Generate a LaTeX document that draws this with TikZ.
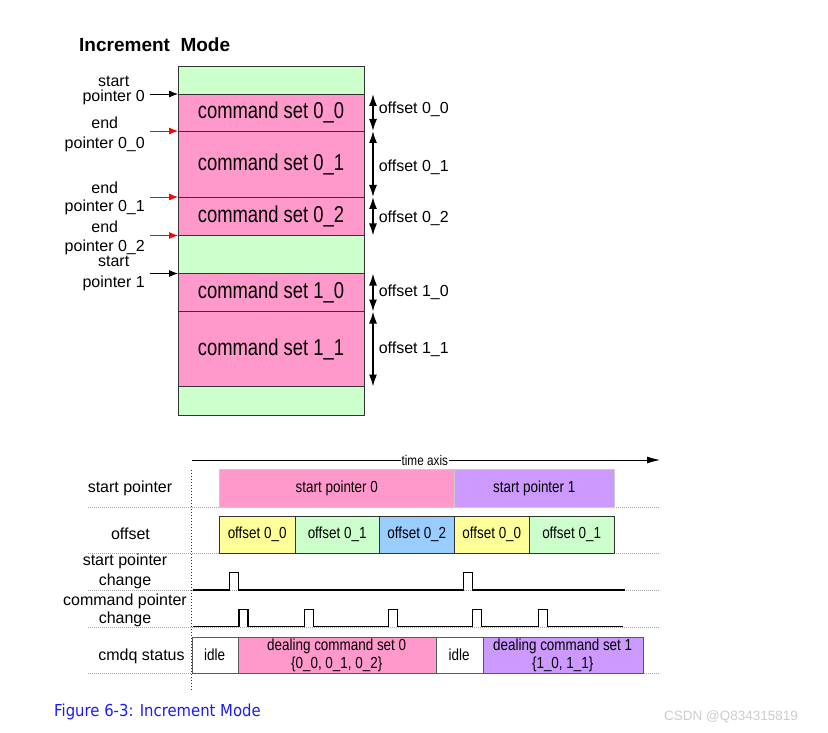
\documentclass[tikz,border=0pt]{standalone}
\usepackage{fontspec}
\setmainfont{Liberation Sans}
\newfontfamily\narrowfont[FakeStretch=0.84]{Liberation Sans}
\newfontfamily\widefont[FakeStretch=0.8]{Liberation Sans}
\newfontfamily\capfont[FakeStretch=0.9]{DejaVu Sans}
\usetikzlibrary{arrows.meta}
\definecolor{cmdpink}{HTML}{FF99CC}
\definecolor{freegreen}{HTML}{CCFFCC}
\definecolor{setpurple}{HTML}{CC99FF}
\definecolor{offyellow}{HTML}{FFFF99}
\definecolor{offblue}{HTML}{99CCFF}
\definecolor{capblue}{HTML}{1A1AFF}
\tikzset{
  memrow/.style={draw=black!80, line width=0.8pt, minimum width=186pt, inner sep=0pt, outer sep=0pt,
    anchor=north west, font=\widefont\fontsize{23}{25}\selectfont},
  ptrlbl/.style={align=center, anchor=east, inner sep=0pt, font=\fontsize{16}{18}\selectfont},
  ptrarr/.style={-{Latex[length=9pt,width=7pt]}, line width=0.8pt},
  offarr/.style={{Latex[length=12pt,width=8pt]}-{Latex[length=12pt,width=8pt]}, line width=1.6pt},
  offlbl/.style={anchor=west, xshift=5pt, inner sep=0pt, font=\fontsize{16}{18}\selectfont},
  rowlbl/.style={align=center, inner sep=0pt, font=\fontsize{16}{18}\selectfont},
  tbox/.style={anchor=north west, inner sep=0pt, outer sep=0pt, align=center,
    font=\narrowfont\fontsize{16}{19}\selectfont},
  sep/.style={gray!70, dash pattern=on 1pt off 1pt},
  wave/.style={line width=1.5pt, line join=miter}
}
\begin{document}
\begin{tikzpicture}[x=1pt,y=-1pt]
  \useasboundingbox (0,0) rectangle (828,733);
  \node[anchor=west, inner sep=0pt, font=\bfseries\fontsize{19}{22}\selectfont] (title) at (79,45) {Increment\ \ Mode};
  % memory layout
  \node[memrow, fill=freegreen, minimum height=28pt] (g0) at (178,66) {};
  \node[memrow, fill=cmdpink, minimum height=37pt] (c00) at (178,94) {command set 0\_0};
  \node[memrow, fill=cmdpink, minimum height=66pt] (c01) at (178,131) {command set 0\_1};
  \node[memrow, fill=cmdpink, minimum height=38.5pt] (c02) at (178,197) {command set 0\_2};
  \node[memrow, fill=freegreen, minimum height=38pt] (g1) at (178,235.5) {};
  \node[memrow, fill=cmdpink, minimum height=38pt] (c10) at (178,273.5) {command set 1\_0};
  \node[memrow, fill=cmdpink, minimum height=75pt] (c11) at (178,311.5) {command set 1\_1};
  \node[memrow, fill=freegreen, minimum height=28.5pt] (g2) at (178,386.5) {};
  \node[ptrlbl] (sp0) at (145,90.5) {start\\[-3pt]pointer 0};
  \node[ptrlbl] (ep00) at (145,134) {end\\[2pt]pointer 0\_0};
  \node[ptrlbl] (ep01) at (145,198) {end\\[0pt]pointer 0\_1};
  \node[ptrlbl] (ep02) at (145,237.5) {end\\[1pt]pointer 0\_2};
  \node[ptrlbl] (sp1) at (145,273.5) {start\\[3pt]pointer 1};
  \draw[ptrarr] (sp0.east |- c00.north west) ++(5,0) -- (c00.north west);
  \draw[ptrarr, red] (ep00.east |- c01.north west) ++(5,0) -- (c01.north west);
  \draw[ptrarr, red] (ep01.east |- c02.north west) ++(5,0) -- (c02.north west);
  \draw[ptrarr, red] (ep02.east |- g1.north west) ++(5,0) -- (g1.north west);
  \draw[ptrarr] (sp1.east |- c10.north west) ++(5,0) -- (c10.north west);
  \draw[offarr] ([xshift=9pt]c00.north east) -- ([xshift=9pt]c00.south east) node[offlbl, midway, yshift=3pt] {offset 0\_0};
  \draw[offarr] ([xshift=9pt]c01.north east) -- ([xshift=9pt]c01.south east) node[offlbl, midway, yshift=-3pt] {offset 0\_1};
  \draw[offarr] ([xshift=9pt]c02.north east) -- ([xshift=9pt]c02.south east) node[offlbl, midway, yshift=-2pt] {offset 0\_2};
  \draw[offarr] ([xshift=9pt]c10.north east) -- ([xshift=9pt]c10.south east) node[offlbl, midway] {offset 1\_0};
  \draw[offarr] ([xshift=9pt]c11.north east) -- ([xshift=9pt]c11.south east) node[offlbl, midway] {offset 1\_1};
  % timing
  \coordinate (t0) at (191.5,460);
  \coordinate (t1) at (660,460);
  \draw[-{Latex[length=13pt,width=7pt]}, line width=0.8pt] (t0) -- (t1)
    node[pos=0.498, fill=white, inner sep=1pt, font=\narrowfont\fontsize{14}{16}\selectfont] (axis) {time axis};
  \draw[black!80, dash pattern=on 1pt off 2pt] (191.5,470) -- (191.5,690);
  \foreach \y in {506.7,552.7,590,626.7,673.3}
    \draw[sep] (88,\y) -- (660,\y);
  \node[rowlbl] (rsp) at (130,488) {start pointer};
  \node[rowlbl] (roff) at (130.5,534) {offset};
  \node[rowlbl] (rspc) at (125,571.5) {start pointer\\[2pt]change};
  \node[rowlbl] (rcpc) at (125,610) {command pointer\\[0pt]change};
  \node[rowlbl] (rst) at (141.5,656.7) {cmdq status};
  \node[tbox, fill=cmdpink, draw=gray!40, minimum width=235pt, minimum height=37.4pt] (spa) at (219.3,469.3) {start pointer 0};
  \node[tbox, fill=setpurple, draw=gray!40, minimum width=160pt, minimum height=37.4pt] (spb) at (454.3,469.3) {start pointer 1};
  \node[tbox, fill=offyellow, draw=black!80, minimum width=75.7pt, minimum height=37pt] (o00) at (219.3,515.7) {offset 0\_0};
  \node[tbox, fill=freegreen, draw=black!80, minimum width=84.3pt, minimum height=37pt] (o01) at (295,515.7) {offset 0\_1};
  \node[tbox, fill=offblue, draw=black!80, minimum width=75pt, minimum height=37pt] (o02) at (379.3,515.7) {offset 0\_2};
  \node[tbox, fill=offyellow, draw=black!80, minimum width=75pt, minimum height=37pt] (o10) at (454.3,515.7) {offset 0\_0};
  \node[tbox, fill=freegreen, draw=black!80, minimum width=84.7pt, minimum height=37pt] (o11) at (529.3,515.7) {offset 0\_1};
  \draw[wave] (193.3,590) \foreach \x in {229.3,463.7} { -- (\x,590) -- ++(0,-17.7) -- ++(9,0) -- ++(0,17.7) } -- (625,590);
  \draw[wave] (193.3,626.7) \foreach \x in {239,304.3,388.3,472.7,538.3} { -- (\x,626.7) -- ++(0,-17.4) -- ++(9,0) -- ++(0,17.4) } -- (623.3,626.7);
  \node[tbox, fill=white, draw=gray!70!black, minimum width=46pt, minimum height=36.6pt] (idle0) at (191.7,636.7) {idle};
  \node[tbox, fill=cmdpink, draw=gray!70!black, minimum width=198pt, minimum height=36.6pt] (deal0) at (237.7,636.7) {dealing command set 0\\[-1pt]\{0\_0, 0\_1, 0\_2\}};
  \node[tbox, fill=white, draw=gray!70!black, minimum width=47pt, minimum height=36.6pt] (idle1) at (435.7,636.7) {idle};
  \node[tbox, fill=setpurple, draw=gray!70!black, minimum width=160pt, minimum height=36.6pt] (deal1) at (482.7,636.7) {dealing command set 1\\[-1pt]\{1\_0, 1\_1\}};
  \node[anchor=west, inner sep=0pt, text=capblue, font=\capfont\fontsize{16.5}{19}\selectfont] (cap) at (54,711.7) {Figure 6-3: Increment Mode};
  \node[inner sep=0pt, text=gray!40, font=\fontsize{13.5}{16}\selectfont] (mark) at (731,717) {CSDN @Q834315819};
\end{tikzpicture}
\end{document}
